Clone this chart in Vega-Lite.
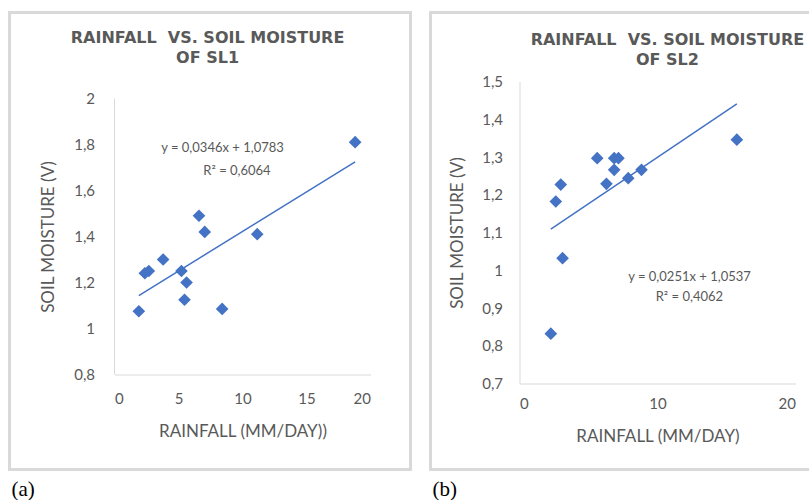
{
  "$schema": "https://vega.github.io/schema/vega-lite/v6.json",
  "padding": {"left": 7.5, "top": 9.5, "right": 0, "bottom": 0},
  "background": "white",
  "spacing": 15,
  "config": {
    "locale": {"number": {"decimal": ",", "thousands": ".", "grouping": [3], "currency": ["", " €"]}},
    "view": {"stroke": null},
    "axis": {
      "domainColor": "#d9d9d9", "domainWidth": 1, "ticks": false, "grid": false, "labelOverlap": false,
      "labelColor": "#595959", "labelFont": "Lato", "labelFontSize": 15,
      "titleColor": "#595959", "titleFont": "Lato", "titleFontSize": 17, "titleFontWeight": "normal"
    }
  },
  "datasets": {
    "sl1": [
      {"rainfall": 18.8, "moisture": 1.81},
      {"rainfall": 6.6, "moisture": 1.49},
      {"rainfall": 7.05, "moisture": 1.42},
      {"rainfall": 11.15, "moisture": 1.41},
      {"rainfall": 3.8, "moisture": 1.3},
      {"rainfall": 2.68, "moisture": 1.25},
      {"rainfall": 2.37, "moisture": 1.24},
      {"rainfall": 5.23, "moisture": 1.25},
      {"rainfall": 5.63, "moisture": 1.2},
      {"rainfall": 5.47, "moisture": 1.125},
      {"rainfall": 1.9, "moisture": 1.075},
      {"rainfall": 8.41, "moisture": 1.085}
    ],
    "sl2": [
      {"rainfall": 15.75, "moisture": 1.346},
      {"rainfall": 5.63, "moisture": 1.297},
      {"rainfall": 6.86, "moisture": 1.297},
      {"rainfall": 7.17, "moisture": 1.297},
      {"rainfall": 6.86, "moisture": 1.266},
      {"rainfall": 8.84, "moisture": 1.266},
      {"rainfall": 7.88, "moisture": 1.244},
      {"rainfall": 6.3, "moisture": 1.229},
      {"rainfall": 2.99, "moisture": 1.227},
      {"rainfall": 2.63, "moisture": 1.182},
      {"rainfall": 3.12, "moisture": 1.032},
      {"rainfall": 2.27, "moisture": 0.832}
    ]
  },
  "hconcat": [
    {
      "width": 256, "height": 293,
      "layer": [
        {
          "data": {"values": [{}]},
          "mark": {"type": "rect", "fillOpacity": 0, "stroke": "#d9d9d9", "strokeWidth": 3, "clip": false},
          "encoding": {
            "x": {"datum": -8.2, "type": "quantitative", "scale": {"domain": [0, 20], "nice": false, "zero": false},
              "axis": {"title": "RAINFALL (MM/DAY))", "values": [0, 5, 10, 15, 20], "labelPadding": 17, "titlePadding": 17}},
            "x2": {"datum": 23.125},
            "y": {"datum": 2.374, "type": "quantitative", "scale": {"domain": [0.8, 2.0739], "nice": false, "zero": false},
              "axis": {"title": "SOIL MOISTURE (V)", "domain": false, "values": [0.8, 1, 1.2, 1.4, 1.6, 1.8, 2], "format": ".1~f", "labelOverlap": false, "labelPadding": 20, "titlePadding": 16, "titleY": 155}},
            "y2": {"datum": 0.387}
          }
        },
        {
          "data": {"values": [{}]},
          "mark": {"type": "text", "font": "DejaVu Sans", "fontSize": 16, "fontWeight": "bold", "color": "#595959", "align": "center", "baseline": "middle", "lineHeight": 20, "clip": false},
          "encoding": {
            "x": {"datum": 7.27, "type": "quantitative"},
            "y": {"datum": 2.261, "type": "quantitative"},
            "text": {"value": ["RAINFALL \u00a0VS. SOIL MOISTURE", "OF SL1"]}
          }
        },
        {
          "data": {"values": [{}]},
          "mark": {"type": "rule", "color": "#d9d9d9", "strokeWidth": 1},
          "encoding": {
            "x": {"datum": 0, "type": "quantitative"},
            "y": {"datum": 0.8, "type": "quantitative"},
            "y2": {"datum": 2}
          }
        },
        {
          "data": {"name": "sl1"},
          "mark": {"type": "point", "shape": "diamond", "filled": true, "size": 160, "color": "#4472C4", "opacity": 1},
          "encoding": {
            "x": {"field": "rainfall", "type": "quantitative"},
            "y": {"field": "moisture", "type": "quantitative"}
          }
        },
        {
          "data": {"name": "sl1"},
          "transform": [{"regression": "moisture", "on": "rainfall"}],
          "mark": {"type": "line", "color": "#4472C4", "strokeWidth": 1.5},
          "encoding": {
            "x": {"field": "rainfall", "type": "quantitative"},
            "y": {"field": "moisture", "type": "quantitative"}
          }
        },
        {
          "data": {"values": [{}]},
          "mark": {"type": "text", "font": "Lato", "fontSize": 13, "color": "#595959", "align": "center", "baseline": "middle"},
          "encoding": {
            "x": {"datum": 8.44, "type": "quantitative"},
            "y": {"datum": 1.783, "type": "quantitative"},
            "text": {"value": "y = 0,0346x + 1,0783"}
          }
        },
        {
          "data": {"values": [{}]},
          "mark": {"type": "text", "font": "Lato", "fontSize": 13, "color": "#595959", "align": "center", "baseline": "middle"},
          "encoding": {
            "x": {"datum": 9.57, "type": "quantitative"},
            "y": {"datum": 1.683, "type": "quantitative"},
            "text": {"value": "R² = 0,6064"}
          }
        },
        {
          "data": {"values": [{}]},
          "mark": {"type": "text", "font": "Liberation Serif", "fontSize": 21, "color": "#000000", "align": "left", "baseline": "middle", "clip": false},
          "encoding": {
            "x": {"datum": -8.05, "type": "quantitative"},
            "y": {"datum": 0.3, "type": "quantitative"},
            "text": {"value": "(a)"}
          }
        }
      ]
    },
    {
      "width": 276, "height": 302,
      "layer": [
        {
          "data": {"values": [{}]},
          "mark": {"type": "rule", "color": "#d9d9d9", "strokeWidth": 3, "strokeCap": "square", "clip": false},
          "encoding": {
            "x": {"datum": -6.45, "type": "quantitative", "scale": {"domain": [0, 20], "nice": false, "zero": false},
              "axis": {"title": "RAINFALL (MM/DAY)", "values": [0, 10, 20], "labelPadding": 13, "titlePadding": 17}},
            "x2": {"datum": 21.0},
            "y": {"datum": 1.683, "type": "quantitative", "scale": {"domain": [0.7, 1.5], "nice": false, "zero": false},
              "axis": {"title": "SOIL MOISTURE (V)", "tickCount": 8, "format": ".1~f", "labelOverlap": false, "labelSeparation": 0, "labelPadding": 17, "titlePadding": 15}}
          }
        },
        {
          "data": {"values": [{}]},
          "mark": {"type": "rule", "color": "#d9d9d9", "strokeWidth": 3, "strokeCap": "square", "clip": false},
          "encoding": {
            "x": {"datum": -6.45, "type": "quantitative"},
            "x2": {"datum": 21.0},
            "y": {"datum": 0.472, "type": "quantitative"}
          }
        },
        {
          "data": {"values": [{}]},
          "mark": {"type": "rule", "color": "#d9d9d9", "strokeWidth": 3, "strokeCap": "square", "clip": false},
          "encoding": {
            "x": {"datum": -6.45, "type": "quantitative"},
            "y": {"datum": 1.683, "type": "quantitative"},
            "y2": {"datum": 0.472}
          }
        },
        {
          "data": {"values": [{}]},
          "mark": {"type": "text", "font": "DejaVu Sans", "fontSize": 16, "fontWeight": "bold", "color": "#595959", "align": "center", "baseline": "middle", "lineHeight": 20, "clip": false},
          "encoding": {
            "x": {"datum": 10.72, "type": "quantitative"},
            "y": {"datum": 1.611, "type": "quantitative"},
            "text": {"value": ["RAINFALL \u00a0VS. SOIL MOISTURE", "OF SL2"]}
          }
        },
        {
          "data": {"name": "sl2"},
          "mark": {"type": "point", "shape": "diamond", "filled": true, "size": 160, "color": "#4472C4", "opacity": 1},
          "encoding": {
            "x": {"field": "rainfall", "type": "quantitative"},
            "y": {"field": "moisture", "type": "quantitative"}
          }
        },
        {
          "data": {"name": "sl2"},
          "transform": [{"regression": "moisture", "on": "rainfall"}],
          "mark": {"type": "line", "color": "#4472C4", "strokeWidth": 1.5},
          "encoding": {
            "x": {"field": "rainfall", "type": "quantitative"},
            "y": {"field": "moisture", "type": "quantitative"}
          }
        },
        {
          "data": {"values": [{}]},
          "mark": {"type": "text", "font": "Lato", "fontSize": 13, "color": "#595959", "align": "center", "baseline": "middle"},
          "encoding": {
            "x": {"datum": 12.32, "type": "quantitative"},
            "y": {"datum": 0.983, "type": "quantitative"},
            "text": {"value": "y = 0,0251x + 1,0537"}
          }
        },
        {
          "data": {"values": [{}]},
          "mark": {"type": "text", "font": "Lato", "fontSize": 13, "color": "#595959", "align": "center", "baseline": "middle"},
          "encoding": {
            "x": {"datum": 12.31, "type": "quantitative"},
            "y": {"datum": 0.928, "type": "quantitative"},
            "text": {"value": "R² = 0,4062"}
          }
        },
        {
          "data": {"values": [{}]},
          "mark": {"type": "text", "font": "Liberation Serif", "fontSize": 21, "color": "#000000", "align": "left", "baseline": "middle", "clip": false},
          "encoding": {
            "x": {"datum": -6.3, "type": "quantitative"},
            "y": {"datum": 0.419, "type": "quantitative"},
            "text": {"value": "(b)"}
          }
        }
      ]
    }
  ]
}
